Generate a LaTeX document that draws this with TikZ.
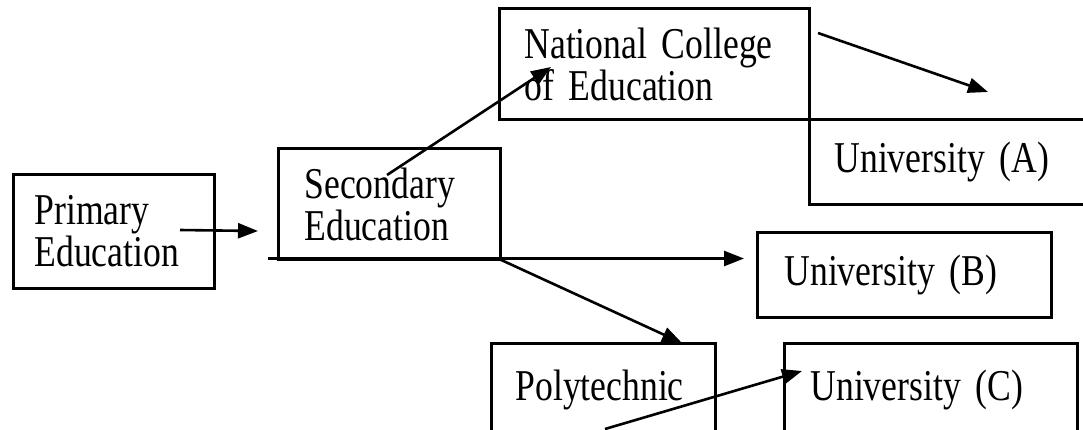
\documentclass[tikz,border=0pt]{standalone}
\usepackage{fontspec}
\setmainfont[FakeStretch=0.81,WordSpace=0.7]{Liberation Serif}
\usetikzlibrary{arrows.meta}
\begin{document}
\begin{tikzpicture}[x=1pt,y=-1pt,
  box/.style={draw, line width=3pt, anchor=north west, align=left, inner ysep=0pt,
    font=\fontsize{44}{42}\selectfont},
  conn/.style={line width=2.6pt, -{Triangle[length=20pt,width=15pt]}}]
\clip (0,0) rectangle (1083,429);
\fill[white] (0,0) rectangle (1083,429);
% boxes
\node[box, inner xsep=21pt, text width=159pt, minimum height=114pt] (prim) at (12,173) {Primary\\Education};
\node[box, inner xsep=26pt, text width=170pt, minimum height=111pt] (sec) at (277,147) {Secondary\\Education};
\node[box, inner xsep=25pt, text width=260pt, minimum height=111pt] (nce) at (498,7) {National College\\of Education};
\node[box, inner xsep=25pt, text width=240pt, minimum height=85pt] (uA) at (808,118) {University (A)};
\node[box, inner xsep=27pt, text width=240pt, minimum height=85pt] (uB) at (756,231) {University (B)};
\node[box, inner xsep=24pt, text width=176pt, minimum height=92pt] (poly) at (490,342) {Polytechnic};
\node[box, inner xsep=26pt, text width=241pt, minimum height=92pt] (uC) at (783,342) {University (C)};
% connector end points
\coordinate (primS) at (180,230);
\coordinate (secT) at (258,231);
\coordinate (secS) at (387,175);
\coordinate (nceT) at (551,67);
\coordinate (nceS) at (818,33);
\coordinate (uAT) at (988,92);
\coordinate (secL) at (268,258.5);
\coordinate (secB) at (498,258.5);
\coordinate (uBT) at (744,258.5);
\coordinate (polyT) at (682,343);
\coordinate (polyS) at (605,429);
\coordinate (uCT) at (802,371);
% connectors
\draw[conn] (primS) -- (secT);
\draw[conn] (secS) -- (nceT);
\draw[conn] (nceS) -- (uAT);
\draw[line width=2.8pt] (secL) -- (secB);
\draw[conn] (secB) -- (uBT);
\draw[conn] (secB) -- (polyT);
\draw[conn] (polyS) -- (uCT);
\end{tikzpicture}
\end{document}
